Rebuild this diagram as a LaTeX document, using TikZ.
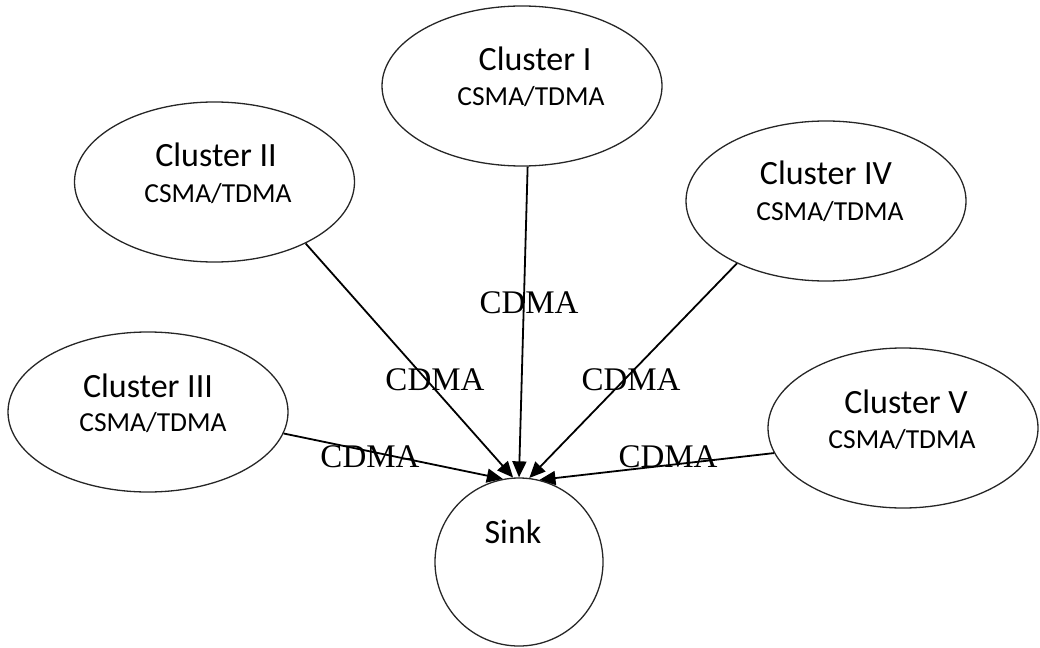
\documentclass[tikz,border=0pt]{standalone}
\usepackage{fontspec}
\setmainfont{Liberation Serif}
\newfontfamily\calib{Carlito}
\usetikzlibrary{shapes.geometric,arrows.meta}
\tikzset{
  cluster/.style={draw=black!85, line width=1.3pt, ellipse, inner sep=0pt, minimum width=280pt, minimum height=160pt},
  sinkshape/.style={draw=black!85, line width=1.3pt, circle, inner sep=0pt, minimum size=168pt},
  ctitle/.style={anchor=base, font=\calib\fontsize{34}{38}\selectfont, inner sep=0pt},
  csub/.style={anchor=base, font=\calib\fontsize{27.5}{31}\selectfont, inner sep=0pt},
  cdma/.style={anchor=base, font=\fontsize{33}{37}\selectfont, inner sep=0pt},
  link/.style={line width=1.8pt, -{Triangle[length=16pt,width=14pt]}}
}
\begin{document}
\begin{tikzpicture}[x=1pt,y=-1pt]
\useasboundingbox (0,0) rectangle (1040,647);
% clusters
\node[cluster] (c1) at (522,86) {};
\node[cluster] (c2) at (214.5,182) {};
\node[cluster] (c4) at (826,201) {};
\node[cluster] (c3) at (148,412) {};
\node[cluster,minimum width=270pt] (c5) at (903,428) {};
\node[sinkshape] (sink) at (519,562) {};
% texts
\node[ctitle] (t1) at (535,71) {Cluster I};
\node[csub] (s1) at (531,106) {CSMA/TDMA};
\node[ctitle] (t2) at (216,167) {Cluster II};
\node[csub] (s2) at (218,202) {CSMA/TDMA};
\node[ctitle] (t4) at (826,185) {Cluster IV};
\node[csub] (s4) at (830,220) {CSMA/TDMA};
\node[ctitle] (t3) at (148,397) {Cluster III};
\node[csub] (s3) at (153,431) {CSMA/TDMA};
\node[ctitle] (t5) at (906,413) {Cluster V};
\node[csub] (s5) at (902,448) {CSMA/TDMA};
\node[ctitle] (ts) at (513,543) {Sink};
% links
\draw[link] (c1.-86.4) -- (sink.90);
\draw[link] (c2.-34.1) -- (sink.94);
\draw[link] (c4.215.9) -- (sink.83);
\draw[link] (c3.-9.3) -- (sink.101);
\draw[link] (c5.191.3) -- (sink.76);
% labels
\node[cdma] (l1) at (529,313) {CDMA};
\node[cdma] (l2) at (435,390) {CDMA};
\node[cdma] (l4) at (631,390) {CDMA};
\node[cdma] (l3) at (370,467) {CDMA};
\node[cdma] (l5) at (668,467) {CDMA};
\end{tikzpicture}
\end{document}
